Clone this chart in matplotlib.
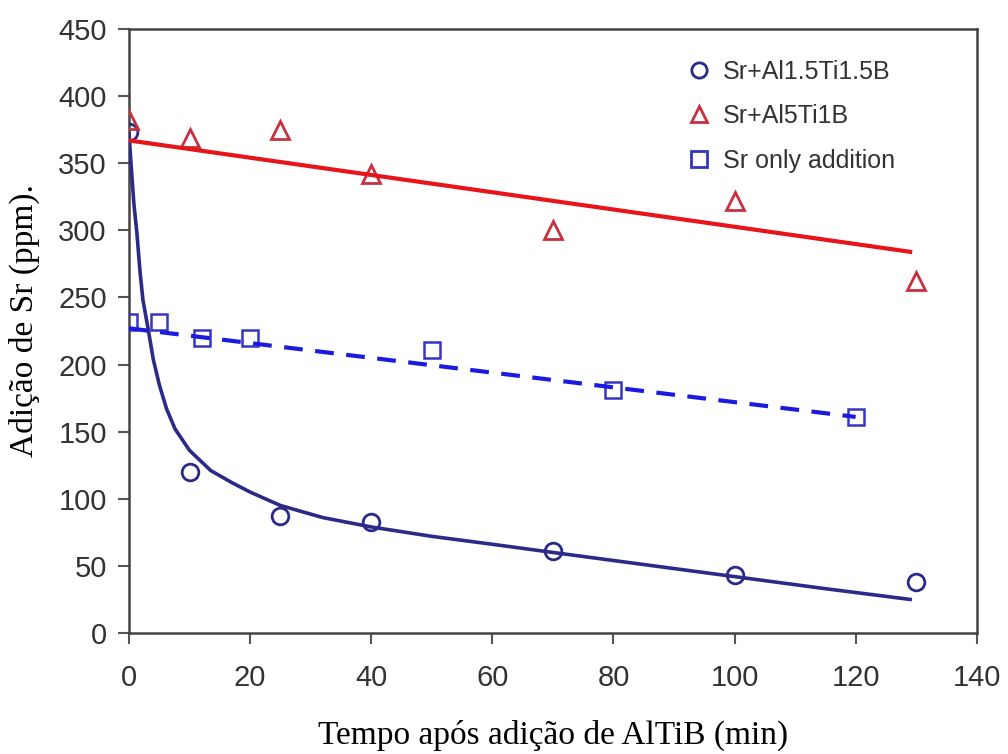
import matplotlib
matplotlib.use("Agg")
import matplotlib.pyplot as plt
from matplotlib.lines import Line2D

# ---- data ----
t_c = [0, 10, 25, 40, 70, 100, 130]
sr_c = [373, 120, 87, 83, 61, 43, 38]          # Sr+Al1.5Ti1.5B

t_t = [0, 10, 25, 40, 70, 100, 130]
sr_t = [382, 369, 375, 342, 300, 322, 262]     # Sr+Al5Ti1B

t_s = [0, 5, 12, 20, 50, 80, 120]
sr_s = [232, 232, 220, 220, 211, 181, 161]     # Sr only addition

# fitted curves as drawn in the picture
fit_c_x = [0, 0.4, 0.8, 1.3, 1.8, 2.3, 3.1, 4.0, 5.0, 6.2, 7.6, 10, 13.5, 17, 20, 25, 32, 40, 50, 61, 70, 85, 100, 115, 129]
fit_c_y = [372, 345, 320, 298, 270, 248, 228, 204, 185, 167, 152, 136, 121, 112, 105, 95, 86, 79, 72, 65.5, 60, 51, 42, 33, 25]
fit_t_x = [0, 129]
fit_t_y = [367, 284]
fit_s_x = [0, 120]
fit_s_y = [227, 161]

labels = ["Sr+Al1.5Ti1.5B", "Sr+Al5Ti1B", "Sr only addition"]
xticks = [0, 20, 40, 60, 80, 100, 120, 140]
yticks = [0, 50, 100, 150, 200, 250, 300, 350, 400, 450]

c_navy = "#2a2a88"
c_red = "#e8141c"
c_red_mk = "#c83040"
c_blue = "#1a1ae0"
c_blue_mk = "#3535c0"

fig = plt.figure(figsize=(10.08, 7.54), dpi=100)
ax = fig.add_axes([0.128, 0.1605, 0.841, 0.801])

ax.plot(t_c, sr_c, ls="none", marker="o", ms=12, mfc="none", mec=c_navy, mew=2.0, zorder=3)
ax.plot(t_t, sr_t, ls="none", marker="^", ms=13, mfc="none", mec=c_red_mk, mew=2.0, zorder=3)
ax.plot(t_s, sr_s, ls="none", marker="s", ms=12, mfc="none", mec=c_blue_mk, mew=1.8, zorder=3)

ax.plot(fit_c_x, fit_c_y, color=c_navy, lw=2.6, zorder=4)
ax.plot(fit_t_x, fit_t_y, color=c_red, lw=3.0, zorder=4)
ax.plot(fit_s_x, fit_s_y, color=c_blue, lw=3.0, ls=(0, (4.5, 3)), zorder=4)

ax.set_xlim(0, 140)
ax.set_ylim(0, 450)
ax.set_xticks(xticks)
ax.set_yticks(yticks)
ax.tick_params(axis="both", direction="out", length=8, width=1.5, color="#555555",
               labelsize=21, labelcolor="#333333")
ax.tick_params(axis="x", pad=14)
ax.tick_params(axis="y", pad=8)
for lab in ax.get_xticklabels() + ax.get_yticklabels():
    lab.set_fontfamily("Liberation Sans")
for sp in ax.spines.values():
    sp.set_color("#444444")
    sp.set_linewidth(1.8)

ax.set_xlabel("Tempo após adição de AlTiB (min)", fontfamily="Liberation Serif",
              fontsize=24, labelpad=20)
ax.set_ylabel("Adição de Sr (ppm).", fontfamily="Liberation Serif", fontsize=24)
ax.yaxis.set_label_coords(-0.105, 0.518)

handles = [
    Line2D([], [], ls="none", marker="o", ms=11, mfc="none", mec=c_navy, mew=2.0),
    Line2D([], [], ls="none", marker="^", ms=12, mfc="none", mec=c_red_mk, mew=2.0),
    Line2D([], [], ls="none", marker="s", ms=11, mfc="none", mec=c_blue_mk, mew=2.0),
]
leg = ax.legend(handles, labels, loc="upper left", bbox_to_anchor=(0.649, 0.966),
                frameon=False, handlelength=0.75, handletextpad=0.6, labelspacing=0.82,
                borderpad=0.4, borderaxespad=0,
                prop={"family": "Liberation Sans", "size": 18})
for tx in leg.get_texts():
    tx.set_color("#333333")

fig.savefig("out.png", dpi=100, facecolor="white")
